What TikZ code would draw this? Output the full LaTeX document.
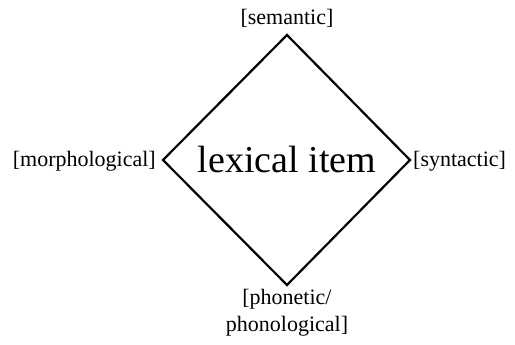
\documentclass[tikz,border=0pt]{standalone}
\usepackage{fontspec}
\setmainfont{Liberation Serif}
\begin{document}
\begin{tikzpicture}[x=1pt,y=-1pt,
  lab/.style={inner sep=0pt,font=\fontsize{22}{27}\selectfont,align=center},
  edge/.style={line width=2.2pt,line join=miter}]
\useasboundingbox (0,0) rectangle (515,345);
\coordinate (t) at (287,35);
\coordinate (r) at (410,160);
\coordinate (b) at (287,285);
\coordinate (l) at (163,160);
\draw[edge] (t) -- (r) -- (b) -- (l) -- cycle;
\node[inner sep=0pt,font=\fontsize{38}{44}\selectfont] (c) at (287,160) {lexical item};
\node[lab,anchor=south] (sem) at (287,28) {[semantic]};
\node[lab,anchor=east] (mor) at (156,161) {[morphological]};
\node[lab,anchor=west] (syn) at (413,161) {[syntactic]};
\node[lab,anchor=north] (pho) at (287,289) {[phonetic/\\phonological]};
\end{tikzpicture}
\end{document}
